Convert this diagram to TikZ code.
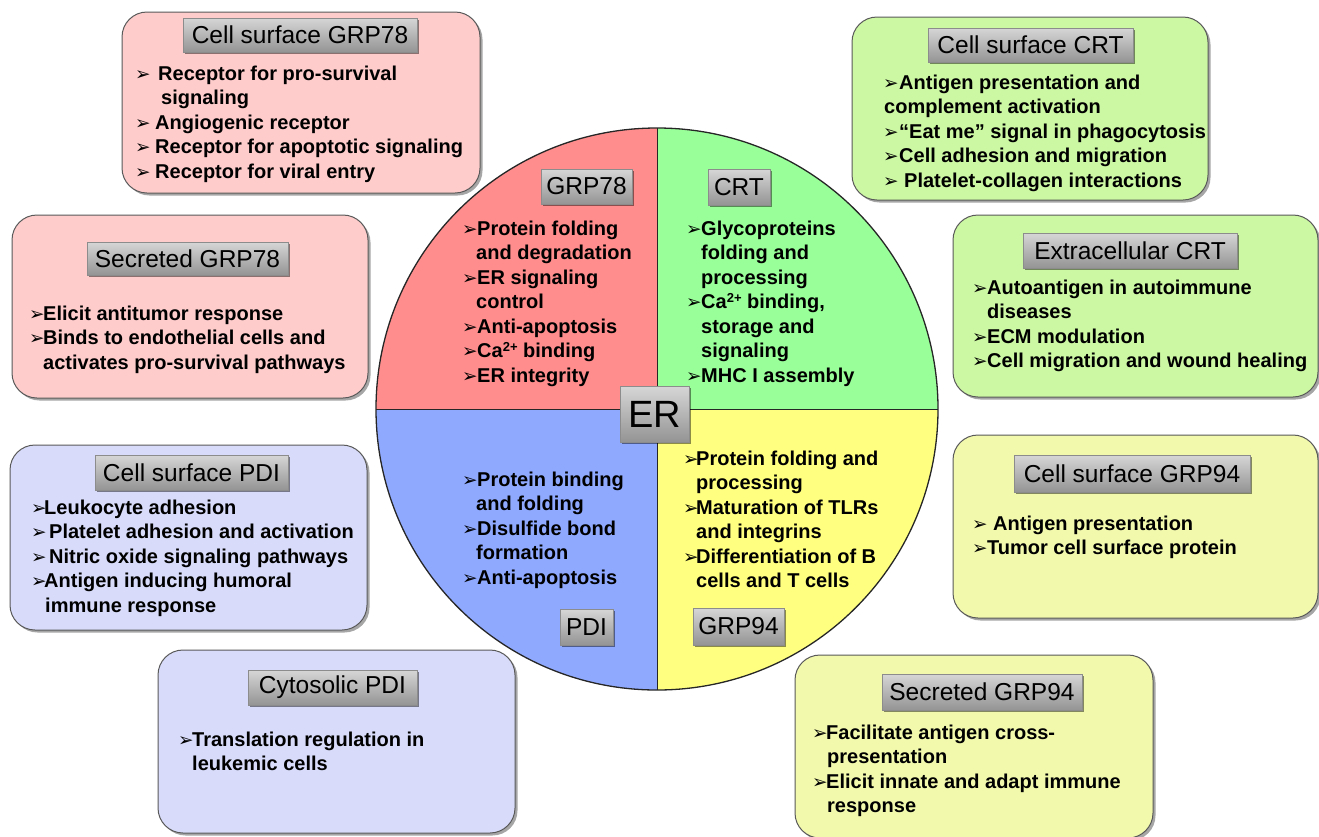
\documentclass[tikz,border=0pt]{standalone}
\usepackage{fontspec}
\setmainfont{Liberation Sans}
\newfontfamily\dejavu{DejaVu Sans}
\usetikzlibrary{shadows}
\definecolor{qred}{HTML}{FF8D8D}
\definecolor{qgreen}{HTML}{99FF99}
\definecolor{qblue}{HTML}{8FA9FF}
\definecolor{qyellow}{HTML}{FFFF80}
\definecolor{opink}{HTML}{FFCCCC}
\definecolor{ogreen}{HTML}{CCF7A3}
\definecolor{oblue}{HTML}{D8DCFA}
\definecolor{oyellow}{HTML}{F2F9AD}
\newcommand\bul{{\dejavu\fontsize{18.5}{18.5}\selectfont\raisebox{0pt}{➢}}}
% #1 bullet box width, #2 hang indent, #3 text
\newcommand\itm[3]{\par\hangindent=#2\hangafter=1\noindent\strut\makebox[#1][l]{\bul}#3}
\newcommand\blk[1]{\parbox[t]{380pt}{\bfseries\fontsize{20}{24.5}\selectfont #1}}
\newcommand\casup{Ca\raisebox{6pt}{\fontsize{13}{13}\selectfont 2+}}
\tikzset{
  outerbox/.style={draw=black!65, line width=1pt, rounded corners=25pt, inner sep=0pt,
    drop shadow={shadow xshift=2.5pt, shadow yshift=-2.5pt, opacity=0.35, fill=black}},
  titlebox/.style={draw=black!45, line width=0.6pt, top color=black!16, bottom color=black!42,
    inner sep=0pt, font=\fontsize{24.5}{24.5}\selectfont, text=black,
    drop shadow={shadow xshift=2pt, shadow yshift=-2pt, opacity=0.45, fill=black}},
  textblk/.style={anchor=north west, inner sep=0pt, text=black}
}
\begin{document}
\begin{tikzpicture}[x=1pt,y=-1pt]
\useasboundingbox (0,0) rectangle (1319,836);
% ---------- outer boxes ----------
\node[outerbox, fill=opink, minimum width=358pt, minimum height=181pt] (b1) at (301,102.5) {};
\node[outerbox, fill=opink, minimum width=356pt, minimum height=183pt] (b2) at (190,306.5) {};
\node[outerbox, fill=oblue, minimum width=357pt, minimum height=185pt] (b3) at (188.5,537.5) {};
\node[outerbox, fill=oblue, minimum width=357pt, minimum height=183pt] (b4) at (336.5,741.5) {};
\node[outerbox, fill=ogreen, minimum width=356pt, minimum height=183pt] (b5) at (1030,108.5) {};
\node[outerbox, fill=ogreen, minimum width=365pt, minimum height=182pt] (b6) at (1135.5,306) {};
\node[outerbox, fill=oyellow, minimum width=365pt, minimum height=183pt] (b7) at (1135.5,526.5) {};
\node[outerbox, fill=oyellow, minimum width=358pt, minimum height=183pt] (b8) at (974,746.5) {};
% ---------- titles ----------
\node[titlebox, minimum width=234pt, minimum height=34pt] (t1) at (300,35) {Cell surface GRP78};
\node[titlebox, minimum width=201pt, minimum height=33pt] (t2) at (187.5,258.5) {Secreted GRP78};
\node[titlebox, minimum width=193pt, minimum height=35pt] (t3) at (191.5,472.5) {Cell surface PDI};
\node[titlebox, minimum width=169pt, minimum height=35pt] (t4) at (332.5,687.5) {Cytosolic PDI};
\node[titlebox, minimum width=205pt, minimum height=34pt] (t5) at (1030.5,45) {Cell surface CRT};
\node[titlebox, minimum width=214pt, minimum height=35pt] (t6) at (1130,250.5) {Extracellular CRT};
\node[titlebox, minimum width=236pt, minimum height=37pt] (t7) at (1132,473.5) {Cell surface GRP94};
\node[titlebox, minimum width=200pt, minimum height=36pt] (t8) at (982,692) {Secreted GRP94};
% ---------- outer texts ----------
\node[textblk] (x1) at (135,63) {\blk{%
  \itm{20pt}{26pt}{\hspace{3pt}Receptor for pro-survival\newline signaling}
  \itm{20pt}{20pt}{Angiogenic receptor}
  \itm{20pt}{20pt}{Receptor for apoptotic signaling}
  \itm{20pt}{20pt}{Receptor for viral entry}}};
\node[textblk] (x2) at (29,303) {\blk{%
  \itm{14pt}{14pt}{Elicit antitumor response}
  \itm{14pt}{14pt}{Binds to endothelial cells and\newline activates pro-survival pathways}}};
\node[textblk] (x3) at (31,497) {\blk{%
  \itm{13pt}{13pt}{Leukocyte adhesion}
  \itm{13pt}{13pt}{\hspace{5pt}Platelet adhesion and activation}
  \itm{13pt}{13pt}{\hspace{5pt}Nitric oxide signaling pathways}
  \itm{13pt}{14pt}{Antigen inducing humoral\newline immune response}}};
\node[textblk] (x4) at (178,729) {\blk{%
  \itm{14pt}{14pt}{Translation regulation in\newline leukemic cells}}};
\node[textblk] (x5) at (883,72) {\blk{%
  \itm{16pt}{1pt}{Antigen presentation and\newline complement activation}
  \itm{16pt}{16pt}{“Eat me” signal in phagocytosis}
  \itm{16pt}{16pt}{Cell adhesion and migration}
  \itm{16pt}{16pt}{\hspace{5pt}Platelet-collagen interactions}}};
\node[textblk] (x6) at (972,277) {\blk{%
  \itm{15pt}{15pt}{Autoantigen in autoimmune\newline diseases}
  \itm{15pt}{15pt}{ECM modulation}
  \itm{15pt}{15pt}{Cell migration and wound healing}}};
\node[textblk] (x7) at (972,513) {\blk{%
  \itm{15pt}{15pt}{\hspace{6pt}Antigen presentation}
  \itm{15pt}{15pt}{Tumor cell surface protein}}};
\node[textblk] (x8) at (812,722) {\blk{%
  \itm{14pt}{15pt}{Facilitate antigen cross-\newline presentation}
  \itm{14pt}{15pt}{Elicit innate and adapt immune\newline response}}};
% ---------- ER circle ----------
\coordinate (c) at (657,409);
\begin{scope}
  \clip (c) circle (281);
  \fill[qred] (370,120) rectangle (657,409);
  \fill[qgreen] (657,120) rectangle (945,409);
  \fill[qblue] (370,409) rectangle (657,700);
  \fill[qyellow] (657,409) rectangle (945,700);
\end{scope}
\coordinate (ctop) at (657,128);
\coordinate (cbot) at (657,690);
\coordinate (cleft) at (376,409);
\coordinate (cright) at (938,409);
\draw[black!85, line width=1pt] (ctop) -- (cbot);
\draw[black!85, line width=1pt] (cleft) -- (cright);
\draw[black!85, line width=1.3pt] (c) circle (281);
% inner labels
\node[titlebox, minimum width=91pt, minimum height=35pt] (i1) at (586.5,186.5) {GRP78};
\node[titlebox, minimum width=62pt, minimum height=36pt] (i2) at (739,187) {CRT};
\node[titlebox, minimum width=53pt, minimum height=36pt] (i3) at (586.5,627) {PDI};
\node[titlebox, minimum width=91pt, minimum height=37pt] (i4) at (738.5,626.5) {GRP94};
% inner texts
\node[textblk] (y1) at (462,218) {\blk{%
  \itm{15pt}{14pt}{Protein folding\newline and degradation}
  \itm{15pt}{14pt}{ER signaling\newline control}
  \itm{15pt}{14pt}{Anti-apoptosis}
  \itm{15pt}{14pt}{\casup\ binding}
  \itm{15pt}{14pt}{ER integrity}}};
\node[textblk] (y2) at (686,218) {\blk{%
  \itm{15pt}{15pt}{Glycoproteins\newline folding and\newline processing}
  \itm{15pt}{15pt}{\casup\ binding,\newline storage and\newline signaling}
  \itm{15pt}{15pt}{MHC I assembly}}};
\node[textblk] (y3) at (462,469) {\blk{%
  \itm{15pt}{14pt}{Protein binding\newline and folding}
  \itm{15pt}{14pt}{Disulfide bond\newline formation}
  \itm{15pt}{14pt}{Anti-apoptosis}}};
\node[textblk] (y4) at (683,448) {\blk{%
  \itm{13pt}{13pt}{Protein folding and\newline processing}
  \itm{13pt}{13pt}{Maturation of TLRs\newline and integrins}
  \itm{13pt}{13pt}{Differentiation of B\newline cells and T cells}}};
% ER label
\node[titlebox, minimum width=69pt, minimum height=56pt, font=\fontsize{38}{38}\selectfont] (er) at (654.5,414) {ER};
\end{tikzpicture}
\end{document}
